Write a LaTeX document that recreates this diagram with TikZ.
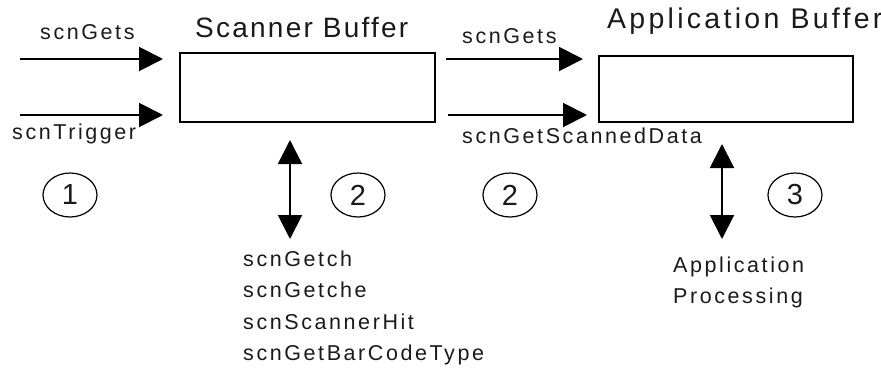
\documentclass[tikz,border=0pt]{standalone}
\usepackage{fontspec}
\usetikzlibrary{arrows.meta,shapes.geometric}
\newfontfamily\smallf[LetterSpace=12]{Liberation Sans}
\newfontfamily\bigf[LetterSpace=8]{Liberation Sans}
\newfontfamily\bigwf[LetterSpace=11.5]{Liberation Sans}
\definecolor{txt}{HTML}{1A1A1A}
\tikzset{
  buf/.style={draw=black,line width=1.6pt,inner sep=0pt},
  lbl/.style={inner sep=0pt,text=txt,font=\smallf\fontsize{21.5pt}{24pt}\selectfont},
  title/.style={inner sep=0pt,text=txt,font=\bigf\fontsize{28pt}{32pt}\selectfont},
  num/.style={draw=black,line width=1.2pt,ellipse,minimum width=54pt,minimum height=44pt,inner sep=0pt,text=txt,font=\bigf\fontsize{29pt}{32pt}\selectfont},
  flow/.style={line width=2pt,-{Triangle[length=24pt,width=24pt]}},
  both/.style={line width=2pt,{Triangle[length=24pt,width=24pt]}-{Triangle[length=24pt,width=24pt]}}
}
\begin{document}
\begin{tikzpicture}[x=1pt,y=-1pt]
\useasboundingbox (0,0) rectangle (881,367);
% buffers
\node[buf,minimum width=255pt,minimum height=69pt] (sb) at (307.5,87.5) {};
\node[buf,minimum width=254pt,minimum height=66pt] (ab) at (726,89) {};
% titles
\node[title,anchor=base west] (sbt) at (195,37) {Scanner Buffer};
\node[title,anchor=base west,font=\bigwf\fontsize{28.5pt}{32pt}\selectfont] (abt) at (607,28) {Application Buffer};
% left arrows
\coordinate (l1s) at (20,59);
\coordinate (l1e) at (163,59);
\coordinate (l2s) at (20,115);
\coordinate (l2e) at (163,115);
\draw[flow] (l1s) -- (l1e);
\draw[flow] (l2s) -- (l2e);
\node[lbl,anchor=base west] (g1) at (40,39) {scnGets};
\node[lbl,anchor=base west] (tr) at (12,139) {scnTrigger};
% middle arrows
\coordinate (m1s) at (446,59);
\coordinate (m1e) at (583,59);
\coordinate (m2s) at (448,115);
\coordinate (m2e) at (587,115);
\draw[flow] (m1s) -- (m1e);
\draw[flow] (m2s) -- (m2e);
\node[lbl,anchor=base west] (g2) at (462,43) {scnGets};
\node[lbl,anchor=base west] (gsd) at (462,143) {scnGetScannedData};
% vertical arrows
\coordinate (v1t) at (290,140);
\coordinate (v1b) at (290,239);
\draw[both] (v1t) -- (v1b);
\coordinate (v2t) at (722,144);
\coordinate (v2b) at (722,239);
\draw[both] (v2t) -- (v2b);
% numbered circles
\node[num] (c1) at (70,195) {1};
\node[num] (c2a) at (358,195) {2};
\node[num] (c2b) at (510,195) {2};
\node[num] (c3) at (795,195) {3};
% function list
\node[lbl,anchor=base west] (f1) at (243,266) {scnGetch};
\node[lbl,anchor=base west] (f2) at (243,297.5) {scnGetche};
\node[lbl,anchor=base west] (f3) at (243,329) {scnScannerHit};
\node[lbl,anchor=base west] (f4) at (243,360) {scnGetBarCodeType};
% application processing
\node[lbl,anchor=base west] (ap1) at (673,272) {Application};
\node[lbl,anchor=base west] (ap2) at (673,303) {Processing};
\end{tikzpicture}
\end{document}
